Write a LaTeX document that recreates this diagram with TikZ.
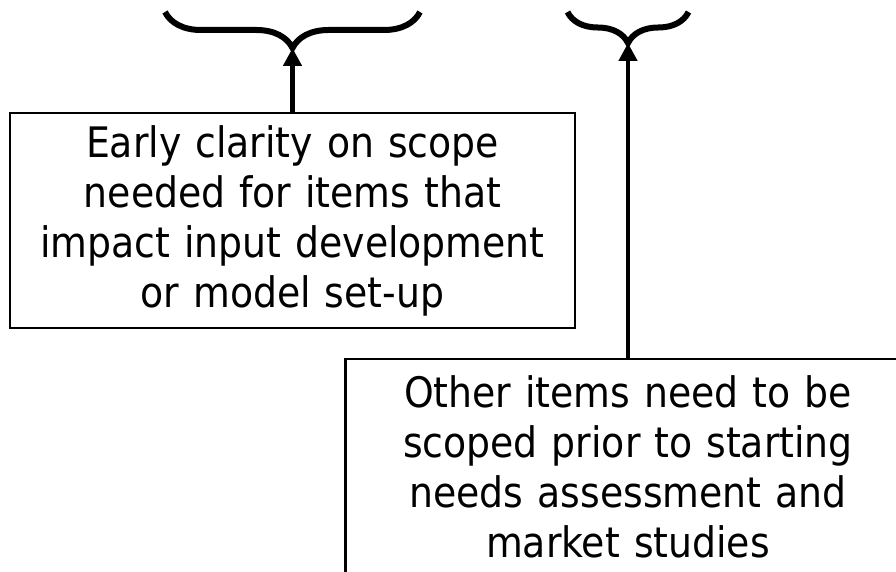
\documentclass[tikz,border=0pt]{standalone}
\usepackage{fontspec}
\setmainfont{DejaVu Sans Condensed}
\usetikzlibrary{arrows.meta,decorations.pathreplacing}

\begin{document}
\begin{tikzpicture}[x=1pt, y=-1pt,
    note/.style={draw, line width=2.5pt, minimum width=565pt, minimum height=215pt,
        text width=550pt, align=center, inner sep=0pt,
        font=\fontsize{42}{50}\selectfont},
    curly/.style={decorate, decoration={brace, amplitude=#1}, line width=6pt},
    feed/.style={-{Triangle[width=18pt,length=18pt]}, line width=4.5pt}]
    \useasboundingbox (0,0) rectangle (896,572);
    % braces (drawn right to left, tips down)
    \draw[curly=36pt] (420,12) -- (165,12);
    \draw[curly=31pt] (688.5,12) -- (567.5,12);
    \coordinate (tipleft) at (292.5,48);
    \coordinate (tipright) at (628,43);
    % boxes
    \node[note] (early) at (292.5,220.5) {Early clarity on scope\\needed for items that\\impact input development\\or model set-up};
    \node[note] (other) at (628,466.5) {Other items need to be\\scoped prior to starting\\needs assessment and\\market studies};
    \draw[feed] (early.north) -- (tipleft);
    \draw[feed] (other.north) -- (tipright);
\end{tikzpicture}
\end{document}
